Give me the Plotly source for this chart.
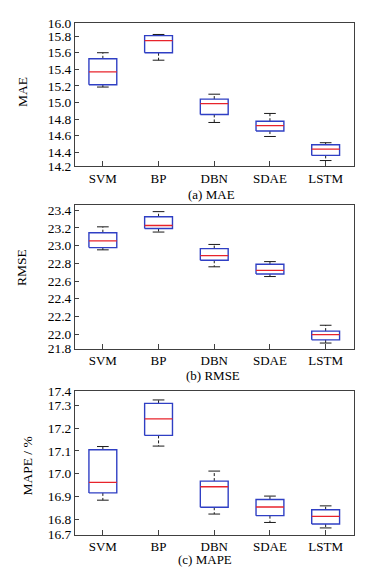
import plotly.graph_objects as go

# ---------------- data ----------------
CATEGORIES = ["SVM", "BP", "DBN", "SDAE", "LSTM"]

MAE_UPPER = [15.600, 15.820, 15.100, 14.868, 14.515]
MAE_Q3 = [15.527, 15.806, 15.041, 14.774, 14.490]
MAE_MEDIAN = [15.370, 15.747, 14.986, 14.720, 14.437]
MAE_Q1 = [15.214, 15.600, 14.856, 14.656, 14.362]
MAE_LOWER = [15.186, 15.510, 14.759, 14.590, 14.300]

RMSE_UPPER = [23.213, 23.385, 23.014, 22.820, 22.100]
RMSE_Q3 = [23.147, 23.327, 22.967, 22.790, 22.034]
RMSE_MEDIAN = [23.055, 23.228, 22.887, 22.720, 21.994]
RMSE_Q1 = [22.978, 23.195, 22.835, 22.680, 21.935]
RMSE_LOWER = [22.953, 23.154, 22.761, 22.651, 21.899]

MAPE_UPPER = [17.119, 17.324, 17.011, 16.901, 16.858]
MAPE_Q3 = [17.105, 17.309, 16.967, 16.886, 16.841]
MAPE_MEDIAN = [16.961, 17.241, 16.942, 16.853, 16.812]
MAPE_Q1 = [16.915, 17.168, 16.852, 16.815, 16.778]
MAPE_LOWER = [16.883, 17.121, 16.822, 16.785, 16.761]

MAE_TICKS = ["14.2", "14.4", "14.6", "14.8", "15.0", "15.2", "15.4", "15.6", "15.8", "16.0"]
RMSE_TICKS = ["21.8", "22.0", "22.2", "22.4", "22.6", "22.8", "23.0", "23.2", "23.4"]
MAPE_TICKS = ["16.7", "16.8", "16.9", "17.0", "17.1", "17.2", "17.3", "17.4"]

Y_TITLES = ["MAE", "RMSE", "MAPE / %"]
X_TITLES = ["(a) MAE", "(b) RMSE", "(c) MAPE"]

# ---------------- style / layout ----------------
WIN_W, WIN_H = 381, 580
BODY_MARGIN = 8          # default page margin around the plot div
W, H = WIN_W - BODY_MARGIN, WIN_H - BODY_MARGIN
FONT = "Liberation Serif, Times New Roman, serif"
BLUE = "#2f3fc4"
RED = "#e8232b"
BLACK = "#1a1a1a"
FRAME = "#404040"
BOX_HALF = 0.25
CAP_HALF = 0.105


def px_x(v):
    return (v - BODY_MARGIN) / W


def px_y(v):
    return 1 - (v - BODY_MARGIN) / H


PLOT_X = (75, 353.5)
PANELS = [
    dict(top=16.0, bottom=163.0, rng=(14.235, 15.961), ticks=MAE_TICKS,
         data=(MAE_LOWER, MAE_Q1, MAE_MEDIAN, MAE_Q3, MAE_UPPER),
         ytitle=(23.0, 87.0), xtitle=(211.7, 192.0)),
    dict(top=203.3, bottom=350.5, rng=(21.837, 23.458), ticks=RMSE_TICKS,
         data=(RMSE_LOWER, RMSE_Q1, RMSE_MEDIAN, RMSE_Q3, RMSE_UPPER),
         ytitle=(21.7, 267.0), xtitle=(213.3, 377.7)),
    dict(top=394.2, bottom=541.5, rng=(16.732, 17.363), ticks=MAPE_TICKS,
         data=(MAPE_LOWER, MAPE_Q1, MAPE_MEDIAN, MAPE_Q3, MAPE_UPPER),
         ytitle=(28.0, 471.7), xtitle=(204.5, 567.0)),
]

fig = go.Figure()
layout = dict(
    width=W, height=H,
    margin=dict(l=0, r=0, t=0, b=0),
    paper_bgcolor="white", plot_bgcolor="white",
    showlegend=False,
    font=dict(family=FONT, size=13, color="black"),
    annotations=[],
)

positions = list(range(1, len(CATEGORIES) + 1))

for i, p in enumerate(PANELS):
    sfx = "" if i == 0 else str(i + 1)
    xa, ya = "x" + sfx, "y" + sfx
    lower, q1, med, q3, upper = p["data"]

    bx, by, mx, my, wx, wy, cx, cy = [], [], [], [], [], [], [], []
    for k, pos in enumerate(positions):
        bx += [pos - BOX_HALF, pos + BOX_HALF, pos + BOX_HALF, pos - BOX_HALF, pos - BOX_HALF, None]
        by += [q1[k], q1[k], q3[k], q3[k], q1[k], None]
        mx += [pos - BOX_HALF, pos + BOX_HALF, None]
        my += [med[k], med[k], None]
        wx += [pos, pos, None, pos, pos, None]
        wy += [q3[k], upper[k], None, q1[k], lower[k], None]
        cx += [pos - CAP_HALF, pos + CAP_HALF, None, pos - CAP_HALF, pos + CAP_HALF, None]
        cy += [upper[k], upper[k], None, lower[k], lower[k], None]

    fig.add_trace(go.Scatter(x=wx, y=wy, mode="lines", xaxis=xa, yaxis=ya,
                             line=dict(color=BLACK, width=1, dash="3px,2px"), hoverinfo="skip"))
    fig.add_trace(go.Scatter(x=cx, y=cy, mode="lines", xaxis=xa, yaxis=ya,
                             line=dict(color=BLACK, width=1), hoverinfo="skip"))
    fig.add_trace(go.Scatter(x=bx, y=by, mode="lines", xaxis=xa, yaxis=ya,
                             line=dict(color=BLUE, width=1.4), hoverinfo="skip"))
    fig.add_trace(go.Scatter(x=mx, y=my, mode="lines", xaxis=xa, yaxis=ya,
                             line=dict(color=RED, width=1.3), hoverinfo="skip"))

    lo, hi = p["rng"]
    eps = 1e-6 * (hi - lo)
    tickvals = [min(hi - eps, max(lo + eps, float(t))) for t in p["ticks"]]

    dom_y = [px_y(p["bottom"]), px_y(p["top"])]
    dom_x = [px_x(PLOT_X[0]), px_x(PLOT_X[1])]

    layout["xaxis" + sfx] = dict(
        domain=dom_x, anchor=ya, range=[0.5, len(CATEGORIES) + 0.5],
        tickmode="array", tickvals=positions, ticktext=CATEGORIES,
        ticks="inside", ticklen=5, tickcolor=FRAME, tickwidth=1,
        showline=True, linecolor=FRAME, linewidth=1, mirror=True,
        showgrid=False, zeroline=False, fixedrange=True,
        tickfont=dict(family=FONT, size=13, color="black"),
    )
    layout["yaxis" + sfx] = dict(
        domain=dom_y, anchor=xa, range=[lo, hi],
        tickmode="array", tickvals=tickvals, ticktext=p["ticks"],
        ticks="inside", ticklen=4, tickcolor=FRAME, tickwidth=1,
        showline=True, linecolor=FRAME, linewidth=1, mirror=True,
        showgrid=False, zeroline=False, fixedrange=True,
        tickfont=dict(family=FONT, size=13.5, color="black"),
    )

    tx, ty = p["ytitle"]
    layout["annotations"].append(dict(
        text=Y_TITLES[i], x=px_x(tx), y=px_y(ty), xref="paper", yref="paper",
        xanchor="center", yanchor="middle", showarrow=False, textangle=-90,
        font=dict(family=FONT, size=13.5, color="black")))
    tx, ty = p["xtitle"]
    layout["annotations"].append(dict(
        text=X_TITLES[i], x=px_x(tx), y=px_y(ty), xref="paper", yref="paper",
        xanchor="center", yanchor="middle", showarrow=False,
        font=dict(family=FONT, size=13, color="black")))

fig.update_layout(**layout)
fig.write_html("out.html")
